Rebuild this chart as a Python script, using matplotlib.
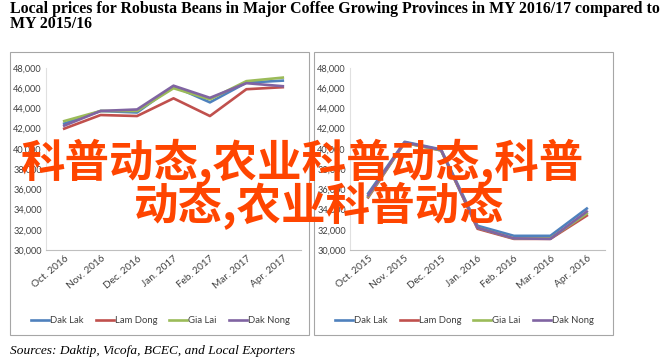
import matplotlib.pyplot as plt
from matplotlib.patches import Rectangle

# categories
months_1617 = ["Oct. 2016", "Nov. 2016", "Dec. 2016", "Jan. 2017", "Feb. 2017", "Mar. 2017", "Apr. 2017"]
months_1516 = ["Oct. 2015", "Nov. 2015", "Dec. 2015", "Jan. 2016", "Feb. 2016", "Mar. 2016", "Apr. 2016"]
provinces = ["Dak Lak", "Lam Dong", "Gia Lai", "Dak Nong"]
colors = ["#4F81BD", "#C0504D", "#9BBB59", "#8064A2"]

# MY 2016/17 (VND/kg)
dak_lak_1617 = [42500, 43750, 43600, 46200, 44600, 46550, 46750]
lam_dong_1617 = [42000, 43350, 43250, 45000, 43250, 45900, 46100]
gia_lai_1617 = [42750, 43750, 43750, 46000, 44900, 46700, 47050]
dak_nong_1617 = [42300, 43750, 43900, 46250, 45050, 46500, 46200]

# MY 2015/16 (VND/kg)
dak_lak_1516 = [35600, 40700, 39950, 32400, 31400, 31400, 34100]
lam_dong_1516 = [35200, 40600, 39850, 32100, 31100, 31100, 33400]
gia_lai_1516 = [35300, 40600, 39850, 32200, 31150, 31150, 33600]
dak_nong_1516 = [35400, 40650, 39900, 32200, 31150, 31100, 33800]

yticks = [30000, 32000, 34000, 36000, 38000, 40000, 42000, 44000, 46000, 48000]

W, H = 665, 359
fig = plt.figure(figsize=(W / 100, H / 100), dpi=100)
fig.patch.set_facecolor("white")

small = ["Lato", "DejaVu Sans"]

# title and source
fig.text(10 / W, 1 - 1 / H,
         "Local prices for Robusta Beans in Major Coffee Growing Provinces in MY 2016/17 compared to\nMY 2015/16",
         fontfamily="Liberation Serif", fontweight="bold", fontsize=11.4,
         ha="left", va="top", linespacing=0.95)
fig.text(10 / W, 1 - 351 / H, "Sources: Daktip, Vicofa, BCEC, and Local Exporters",
         fontfamily="Liberation Serif", fontstyle="italic", fontsize=9.6, ha="left", va="center")

# panel frames
for x0, x1 in [(10, 309), (314, 613)]:
    fig.add_artist(Rectangle((x0 / W, 1 - 335 / H), (x1 - x0) / W, (335 - 52) / H,
                             transform=fig.transFigure, fill=False,
                             edgecolor="#A6A6A6", linewidth=0.8))


def panel(left_px, months, series):
    ax = fig.add_axes([left_px / W, 1 - 250 / H, 255 / W, 182 / H])
    x = range(len(months))
    for vals, c, name in zip(series, colors, provinces):
        ax.plot(x, vals, color=c, linewidth=1.9, label=name)
    ax.set_xlim(-0.5, len(months) - 0.5)
    ax.set_ylim(30000, 48000)
    ax.set_yticks(yticks)
    ax.set_yticklabels([f"{v:,}" for v in yticks], fontfamily=small, fontsize=6.6, color="#404040")
    ax.set_xticks(list(x))
    ax.set_xticklabels(months, rotation=40, ha="right", va="top", rotation_mode="anchor",
                       fontfamily=small, fontsize=7.2, color="#404040")
    ax.tick_params(length=0, pad=3)
    for s in ["top", "right"]:
        ax.spines[s].set_visible(False)
    ax.spines["left"].set_color("#E0E0E0")
    ax.spines["bottom"].set_color("#BFBFBF")
    ax.patch.set_alpha(0)
    leg = ax.legend(loc="center", bbox_to_anchor=(0.449, -0.39), ncol=4, frameon=False,
                    handlelength=1.9, handletextpad=0.1, columnspacing=1.3,
                    prop={"family": small, "size": 6.8})
    for t in leg.get_texts():
        t.set_color("#404040")
    return ax


panel(46, months_1617, [dak_lak_1617, lam_dong_1617, gia_lai_1617, dak_nong_1617])
panel(350, months_1516, [dak_lak_1516, lam_dong_1516, gia_lai_1516, dak_nong_1516])

# overlaid watermark text
cjk = ["Noto Sans CJK SC", "DejaVu Sans"]
fig.text(302 / W, 1 - 163 / H, "科普动态,农业科普动态,科普", fontfamily=cjk, fontweight="bold",
         fontsize=32, color="#FF4500", ha="center", va="center", zorder=10)
fig.text(319 / W, 1 - 206 / H, "动态,农业科普动态", fontfamily=cjk, fontweight="bold",
         fontsize=32, color="#FF4500", ha="center", va="center", zorder=10)

fig.savefig("out.png", dpi=100, facecolor="white")
